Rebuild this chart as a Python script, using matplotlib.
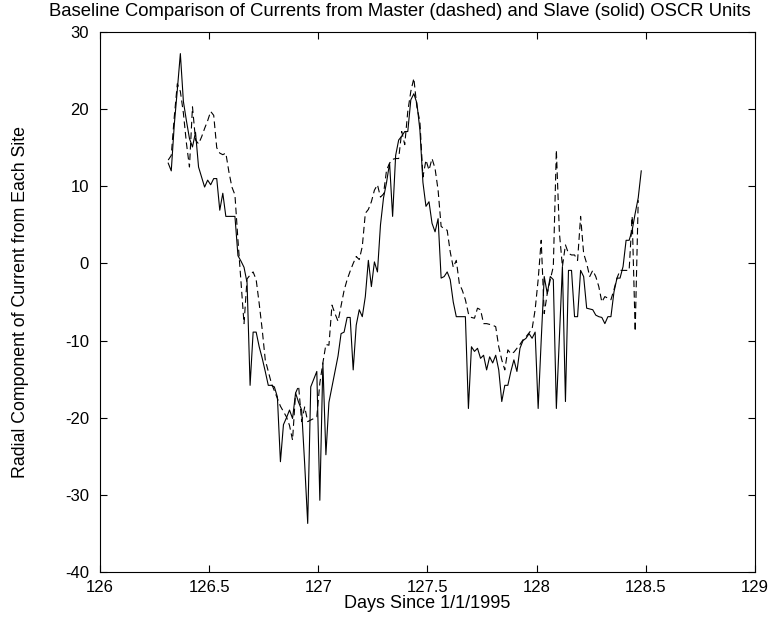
import numpy as np
import matplotlib
matplotlib.use("Agg")
import matplotlib.pyplot as plt

plt.rcParams['font.family'] = ['Liberation Sans', 'DejaVu Sans']
plt.rcParams['axes.unicode_minus'] = False

# sampling: every 20 minutes starting 126.3125
t0 = 126.3125
dt = 1.0 / 72

# Slave unit (solid)
slave = [13.0, 12.0, 18.0, 22.5, 27.2, 21.0, 18.5, 16.2, 15.1, 17.0,
         12.5, 11.2, 9.9, 10.8, 10.2, 11.0, 11.0, 6.9, 9.1, 6.1,
         6.1, 6.1, 6.1, 1.0, 0.3, -0.5, -2.5, -15.8, -8.9, -8.9,
         -10.8, -12.3, -14.0, -15.8, -15.8, -16.0, -17.3, -25.7, -20.9, -20.0,
         -19.0, -20.1, -16.8, -18.0, -19.0, -26.0, -33.7, -16.0, -15.0, -14.0,
         -30.7, -12.9, -24.8, -18.0, -16.0, -14.0, -12.0, -9.1, -8.9, -7.0,
         -7.0, -13.8, -8.0, -6.0, -6.9, -4.3, 0.4, -3.0, 0.2, -1.1,
         5.0, 8.5, 10.5, 13.0, 6.1, 14.0, 16.0, 16.5, 17.1, 17.1,
         21.2, 22.0, 20.8, 17.3, 10.5, 7.4, 8.0, 5.2, 4.1, 5.8,
         -1.9, -1.7, -1.1, -2.1, -5.0, -6.9, -6.9, -6.9, -6.9, -18.8,
         -10.8, -11.4, -11.0, -12.3, -11.9, -13.8, -12.1, -12.9, -11.9, -13.8,
         -17.9, -15.8, -15.8, -14.0, -12.5, -14.0, -11.0, -10.0, -9.7, -9.1,
         -9.7, -8.9, -18.8, -10.0, -1.7, -3.9, -1.7, -2.1, -18.8, -9.6,
         -0.4, -17.9, -0.9, -0.9, -6.9, -6.9, -0.9, -1.7, -5.8, -5.9,
         -6.0, -6.7, -6.9, -7.0, -7.8, -6.9, -6.9, -3.7, -1.9, -1.9,
         -0.4, 3.0, 3.0, 4.3, 6.5, 8.5, 12.0]

# Master unit (dashed)
master = [13.4, 14.0, 19.0, 23.3, 22.3, 19.5, 15.6, 12.5, 20.3, 16.0,
          15.5, 16.4, 17.5, 18.5, 19.7, 19.2, 15.0, 14.3, 14.1, 14.3,
          11.9, 9.9, 8.9, 3.0, -2.5, -7.8, -2.0, -1.5, -1.1, -2.1,
          -5.2, -8.6, -12.5, -14.0, -15.5, -16.5, -17.5, -18.5, -19.2, -19.9,
          -21.0, -22.9, -16.8, -15.9, -20.5, -18.6, -20.5, -20.3, -20.1, -19.9,
          -15.5, -12.9, -10.5, -10.6, -5.4, -6.5, -7.5, -5.5, -3.5, -2.1,
          -1.0, 0.0, 0.9, 0.5, 2.2, 6.5, 7.0, 8.0, 9.5, 10.2,
          8.6, 9.0, 12.1, 13.0, 13.5, 13.6, 13.6, 17.1, 15.4, 19.7,
          22.3, 24.0, 20.3, 18.4, 11.2, 13.4, 12.1, 13.6, 12.3, 9.5,
          4.8, 4.5, 4.3, 1.5, -0.5, 0.4, -2.6, -3.5, -4.7, -6.5,
          -7.0, -7.1, -5.8, -6.0, -7.8, -7.8, -7.9, -8.0, -8.2, -10.8,
          -12.5, -13.8, -11.2, -11.7, -11.5, -11.0, -10.5, -9.9, -9.5, -9.0,
          -8.5, -6.0, -2.1, 3.0, -6.5, -3.9, -2.1, -0.4, 14.7, 4.0,
          -0.4, 2.4, 1.3, 1.1, 1.1, 0.4, 6.1, 1.3, 0.0, -1.7,
          -0.9, -1.7, -3.0, -5.0, -4.3, -4.5, -4.7, -3.4, -1.9, -0.9,
          -0.9, -0.9, -0.9, 6.1, -8.8, 8.2]

t_slave = t0 + dt * np.arange(len(slave))
t_master = t0 + dt * np.arange(len(master))

fig = plt.figure(figsize=(7.71, 6.18), dpi=100)
ax = fig.add_axes([0.1297, 0.0744, 0.8495, 0.8738])

ax.plot(t_master, master, color='black', lw=0.8, linestyle=(0, (6, 3.5)))
ax.plot(t_slave, slave, color='black', lw=0.8)

ax.set_xlim(126, 129)
ax.set_ylim(-40, 30)
ax.set_xticks([126, 126.5, 127, 127.5, 128, 128.5, 129])
ax.set_xticklabels(['126', '126.5', '127', '127.5', '128', '128.5', '129'])
ax.set_yticks(range(-40, 31, 10))

ax.tick_params(direction='in', top=True, right=True, length=5, width=0.8,
               labelsize=12)
ax.tick_params(axis='x', pad=6)
ax.tick_params(axis='y', pad=8)
for s in ax.spines.values():
    s.set_linewidth(0.8)

fig.text(400 / 771, 1 - 3 / 618,
         'Baseline Comparison of Currents from Master (dashed) and Slave (solid) OSCR Units',
         fontsize=13.3, ha='center', va='top')
ax.set_xlabel('Days Since 1/1/1995', fontsize=13)
ax.xaxis.set_label_coords(0.5, -0.059)
ax.xaxis.label.set_va('center')
ax.set_ylabel('Radial Component of Current from Each Site', fontsize=12.8)
ax.yaxis.set_label_coords(-0.122, 0.5)
ax.yaxis.label.set_va('center')

fig.savefig('out.png', dpi=100)
